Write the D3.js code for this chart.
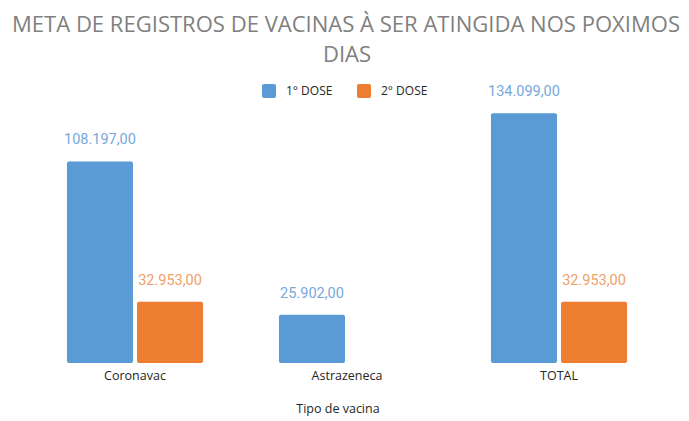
<!DOCTYPE html>
<html>
<head>
<meta charset="utf-8">
<script src="https://cdn.jsdelivr.net/npm/d3@7"></script>
<style>
  body { margin: 0; background: #fff; }
</style>
</head>
<body>
<script>
const categories = ['Coronavac', 'Astrazeneca', 'TOTAL'];
const seriesNames = ['1° DOSE', '2° DOSE'];
const dose1 = [108197, 25902, 134099];
const dose2 = [32953, null, 32953];
const colors = ['#5b9bd5', '#ed7d31'];
const labelColors = ['#78a8dc', '#f0a068'];

const width = 689, height = 421;

const svg = d3.select('body')
  .append('svg')
  .attr('width', width)
  .attr('height', height);

// title, two lines
const title = svg.append('text')
  .attr('text-anchor', 'middle')
  .attr('fill', '#808080')
  .style('font-family', '"Open Sans", sans-serif')
  .style('font-weight', 400)
  .style('font-size', '22px');
title.append('tspan').attr('x', 346).attr('y', 32)
  .attr('textLength', 668).attr('lengthAdjust', 'spacingAndGlyphs')
  .text('META DE REGISTROS DE VACINAS À SER ATINGIDA NOS POXIMOS');
title.append('tspan').attr('x', 347).attr('y', 62).text('DIAS');

const x0 = d3.scaleBand()
  .domain(categories)
  .range([29, 665])
  .paddingInner(0.358)
  .paddingOuter(0.179);

const x1 = d3.scaleBand()
  .domain(seriesNames)
  .range([0, x0.bandwidth()])
  .paddingInner(0.057);

const y = d3.scaleLinear()
  .domain([0, 160000])
  .range([363, 65]);

const fmt = v => d3.format(',.2f')(v).replace(/,/g, '#').replace('.', ',').replace(/#/g, '.');

const rows = categories.map((c, i) => ({ cat: c, vals: [dose1[i], dose2[i]] }));

const groups = svg.append('g')
  .selectAll('g')
  .data(rows)
  .join('g')
  .attr('transform', d => `translate(${x0(d.cat)},0)`);

const cells = groups.selectAll('g')
  .data(d => d.vals.map((v, j) => ({ v, j })).filter(e => e.v != null))
  .join('g');

cells.append('rect')
  .attr('x', d => x1(seriesNames[d.j]))
  .attr('y', d => y(d.v))
  .attr('width', x1.bandwidth())
  .attr('height', d => y(0) - y(d.v))
  .attr('rx', 2)
  .attr('fill', d => colors[d.j]);

cells.append('text')
  .attr('x', d => x1(seriesNames[d.j]) + x1.bandwidth() / 2)
  .attr('y', d => y(d.v) - 17)
  .attr('text-anchor', 'middle')
  .attr('fill', d => labelColors[d.j])
  .style('font-family', 'Roboto, sans-serif')
  .style('font-size', '14.5px')
  .text(d => fmt(d.v));

// category axis labels
const xAxis = svg.append('g')
  .attr('transform', `translate(0,${y(0)})`)
  .call(d3.axisBottom(x0).tickSize(0).tickPadding(8));
xAxis.select('.domain').remove();
xAxis.selectAll('text')
  .attr('fill', '#262626')
  .style('font-family', '"Open Sans", sans-serif')
  .style('font-size', '12.5px');

svg.append('text')
  .attr('x', 338)
  .attr('y', 413)
  .attr('text-anchor', 'middle')
  .attr('fill', '#262626')
  .style('font-family', '"Open Sans", sans-serif')
  .style('font-size', '12.5px')
  .text('Tipo de vacina');

// legend
const legend = svg.append('g')
  .selectAll('g')
  .data(seriesNames)
  .join('g')
  .attr('transform', (d, i) => `translate(${262 + i * 95},84)`);
legend.append('rect')
  .attr('width', 14).attr('height', 14).attr('rx', 2)
  .attr('fill', (d, i) => colors[i]);
legend.append('text')
  .attr('x', 24).attr('y', 11)
  .attr('fill', '#262626')
  .style('font-family', '"Open Sans", sans-serif')
  .style('font-size', '12px')
  .text(d => d);
</script>
</body>
</html>
